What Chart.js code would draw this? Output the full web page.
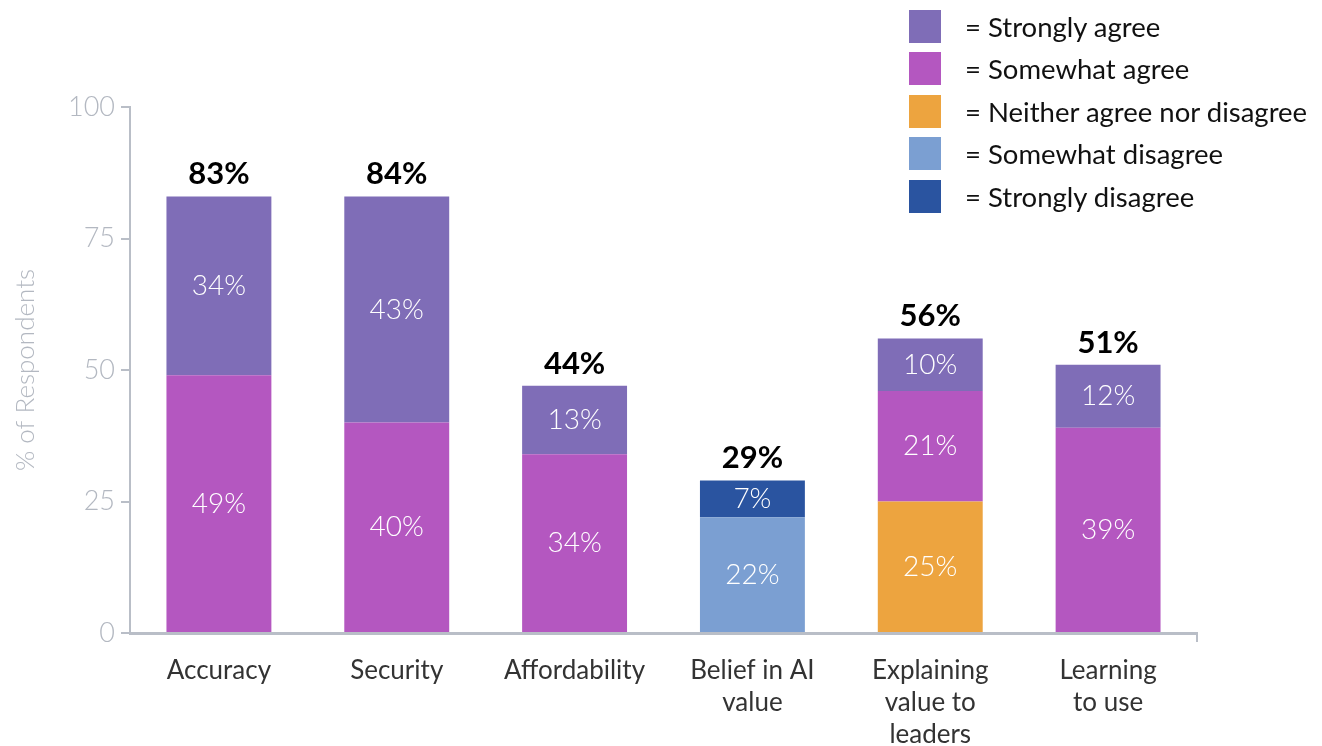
<!DOCTYPE html>
<html>
<head>
<meta charset="utf-8">
<script src="https://cdn.jsdelivr.net/npm/chart.js@4"></script>
<style>
  html, body { margin: 0; padding: 0; background: #fff; }
  #wrap { position: relative; width: 1322px; height: 746px; }
  #legend { position: absolute; left: 909px; top: 5px; font-family: Lato, "Noto Sans", sans-serif; font-size: 27.5px; color: #111; }
  #legend .row { display: flex; align-items: center; height: 42.5px; }
  #legend .box { width: 32px; height: 33px; margin-right: 24px; }
</style>
</head>
<body>
<div id="wrap">
  <canvas id="chart" width="1322" height="746"></canvas>
  <div id="legend"></div>
</div>
<script>
const categories = [
  ['Accuracy'],
  ['Security'],
  ['Affordability'],
  ['Belief in AI', 'value'],
  ['Explaining', 'value to', 'leaders'],
  ['Learning', 'to use']
];

// stacked bottom to top
const neither          = [null, null, null, null, 25, null];
const somewhatDisagree = [null, null, null, 22, null, null];
const stronglyDisagree = [null, null, null, 7, null, null];
const somewhatAgree    = [49, 40, 34, null, 21, 39];
const stronglyAgree    = [34, 43, 13, null, 10, 12];

const totalLabels = ['83%', '84%', '44%', '29%', '56%', '51%'];
const yTicks = [0, 25, 50, 75, 100];

const colors = {
  stronglyAgree: '#7f6db7',
  somewhatAgree: '#b457c0',
  neither: '#eda43f',
  somewhatDisagree: '#7b9fd2',
  stronglyDisagree: '#2a54a0'
};

const legendItems = [
  ['= Strongly agree', colors.stronglyAgree],
  ['= Somewhat agree', colors.somewhatAgree],
  ['= Neither agree nor disagree', colors.neither],
  ['= Somewhat disagree', colors.somewhatDisagree],
  ['= Strongly disagree', colors.stronglyDisagree]
];

const legendEl = document.getElementById('legend');
legendItems.forEach(([text, color]) => {
  const row = document.createElement('div');
  row.className = 'row';
  row.innerHTML = '<div class="box" style="background:' + color + '"></div><span>' + text + '</span>';
  legendEl.appendChild(row);
});

const font = 'Lato, "Noto Sans", sans-serif';
const axisGray = '#b9bec7';

const mkSet = (label, data, color) => ({
  label, data, backgroundColor: color,
  barPercentage: 0.59, categoryPercentage: 1, borderWidth: 0
});

// white value inside each segment, bold total above each bar
const barLabels = {
  id: 'barLabels',
  afterDatasetsDraw(chart) {
    const ctx = chart.ctx;
    ctx.save();
    ctx.textAlign = 'center';
    ctx.textBaseline = 'middle';
    const tops = [];
    chart.data.datasets.forEach((ds, i) => {
      const meta = chart.getDatasetMeta(i);
      meta.data.forEach((bar, j) => {
        const v = ds.data[j];
        if (v == null) return;
        ctx.fillStyle = '#fff';
        ctx.font = '300 28px ' + font;
        ctx.fillText(v + '%', bar.x, (bar.y + bar.base) / 2);
        if (tops[j] == null || bar.y < tops[j].y) tops[j] = { x: bar.x, y: bar.y };
      });
    });
    ctx.fillStyle = '#000';
    ctx.font = 'bold 31px ' + font;
    tops.forEach((t, j) => ctx.fillText(totalLabels[j], t.x, t.y - 22));
    // small end tick on the x axis
    const a = chart.chartArea;
    ctx.strokeStyle = axisGray;
    ctx.lineWidth = 2;
    ctx.beginPath();
    ctx.moveTo(a.right, a.bottom);
    ctx.lineTo(a.right, a.bottom + 9);
    ctx.stroke();
    ctx.restore();
  }
};

new Chart(document.getElementById('chart'), {
  type: 'bar',
  data: {
    labels: categories,
    datasets: [
      mkSet('Neither agree nor disagree', neither, colors.neither),
      mkSet('Somewhat disagree', somewhatDisagree, colors.somewhatDisagree),
      mkSet('Strongly disagree', stronglyDisagree, colors.stronglyDisagree),
      mkSet('Somewhat agree', somewhatAgree, colors.somewhatAgree),
      mkSet('Strongly agree', stronglyAgree, colors.stronglyAgree)
    ]
  },
  options: {
    responsive: false,
    animation: false,
    layout: { padding: { top: 107, right: 125, bottom: 0, left: 0 } },
    plugins: { legend: { display: false }, tooltip: { enabled: false } },
    scales: {
      x: {
        stacked: true,
        grid: { display: false },
        border: { color: axisGray, width: 3 },
        ticks: { color: '#333', font: { family: font, size: 26, lineHeight: 1.22 }, padding: 14, maxRotation: 0 },
        afterFit: s => { s.height = 113; }
      },
      y: {
        stacked: true,
        min: 0, max: 100,
        afterBuildTicks: s => { s.ticks = yTicks.map(v => ({ value: v })); },
        grid: { drawOnChartArea: false, drawTicks: true, tickLength: 9, color: axisGray, lineWidth: 2 },
        border: { color: axisGray, width: 2 },
        ticks: { color: '#b3b8c1', font: { family: font, size: 27, weight: '300' }, padding: 6 },
        title: { display: true, text: '% of Respondents', color: '#b3b8c1', font: { family: font, size: 26, weight: '300' }, padding: { top: 10, bottom: 0 } },
        afterFit: s => { s.width = 130; }
      }
    }
  },
  plugins: [barLabels]
});
</script>
</body>
</html>
